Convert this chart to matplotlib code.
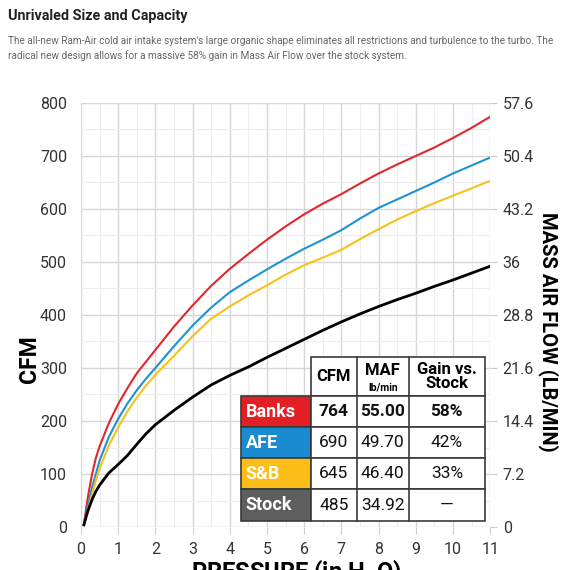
import matplotlib.pyplot as plt
from matplotlib.patches import Rectangle
from matplotlib.ticker import MultipleLocator

# pressure (in H2O) and airflow (CFM)
pressure = [0.08, 0.15, 0.2, 0.3, 0.4, 0.5, 0.75, 1, 1.25, 1.5, 1.75, 2, 2.5, 3, 3.5, 4,
            4.5, 5, 5.5, 6, 6.5, 7, 7.5, 8, 8.5, 9, 9.5, 10, 10.5, 11]
banks = [5, 40, 62, 100, 130, 152, 196, 232, 262, 290, 312, 334, 378, 418, 455, 487,
         515, 542, 567, 590, 610, 628, 648, 667, 684, 700, 716, 734, 753, 774]
afe = [4, 28, 45, 75, 100, 125, 170, 204, 233, 258, 280, 300, 341, 380, 414, 443,
       465, 486, 506, 525, 542, 560, 582, 602, 618, 634, 650, 667, 682, 697]
sb = [4, 22, 36, 62, 88, 110, 154, 188, 218, 244, 267, 287, 323, 360, 393, 416,
      437, 456, 476, 494, 508, 523, 543, 562, 580, 596, 611, 625, 639, 653]
stock = [4, 22, 33, 52, 67, 79, 102, 118, 135, 156, 176, 193, 220, 245, 268, 286,
         302, 320, 337, 354, 371, 387, 402, 416, 429, 441, 454, 466, 479, 492]

# table values
names = ['Banks', 'AFE', 'S&B', 'Stock']
cfm_vals = ['764', '690', '645', '485']
maf_vals = ['55.00', '49.70', '46.40', '34.92']
gain_vals = ['58%', '42%', '33%', '\u2014']

maf_ticks = ['0', '7.2', '14.4', '21.6', '28.8', '36', '43.2', '50.4', '57.6']

colors = ['#e2262d', '#1e93d3', '#f6c21a', 'black']
cell_colors = ['#e31e25', '#1a8bd0', '#fbbd16', '#5e5e5e']

plt.rcParams['font.family'] = ['Roboto', 'DejaVu Sans']

fig = plt.figure(figsize=(5.7, 5.7), dpi=100)
ax = fig.add_axes([0.142, 0.0754, 0.718, 0.744])

for ys, c in zip([banks, afe, sb, stock], colors):
    ax.plot(pressure, ys, color=c, lw=2.0 if c == 'black' else 1.5, zorder=3,
            solid_joinstyle='round')

ax.set_xlim(0, 11)
ax.set_ylim(0, 800)
ax.xaxis.set_major_locator(MultipleLocator(1))
ax.xaxis.set_minor_locator(MultipleLocator(0.5))
ax.yaxis.set_major_locator(MultipleLocator(100))
ax.yaxis.set_minor_locator(MultipleLocator(50))
ax.grid(which='major', color='#d6d6d6', lw=1.0)
ax.grid(which='minor', color='#ededed', lw=0.8)
ax.set_axisbelow(True)
for s in ax.spines.values():
    s.set_visible(False)
ax.tick_params(which='major', length=5, color='#cccccc', labelsize=11.5, labelcolor='#333333', pad=6)
ax.tick_params(which='minor', length=0)
ax.tick_params(axis='y', length=0, pad=10)

ax2 = ax.twinx()
ax2.set_ylim(0, 800)
ax2.set_yticks(range(0, 801, 100))
ax2.set_yticklabels(maf_ticks)
for s in ax2.spines.values():
    s.set_visible(False)
ax2.tick_params(length=5, color='#cccccc', labelsize=11.5, labelcolor='#333333', pad=4)

fig.text(0.052, 0.37, 'CFM', rotation=90, fontsize=16.5, fontweight='bold', ha='center', va='center')
fig.text(0.962, 0.418, 'MASS AIR FLOW (LB/MIN)', rotation=-90, fontsize=14.5, fontweight='bold',
         ha='center', va='center')
fig.text(0.52, 0.023, 'PRESSURE (in H$_\\mathbf{2}$O)', fontsize=17, fontweight='bold', ha='center', va='top')

fig.text(0.014, 0.972, 'Unrivaled Size and Capacity', fontsize=10.4, fontweight='bold', color='#222222', va='center')
fig.text(0.014, 0.928, "The all-new Ram-Air cold air intake system's large organic shape eliminates all restrictions and turbulence to the turbo. The",
         fontsize=7.2, color='#666666', va='center')
fig.text(0.014, 0.902, 'radical new design allows for a massive 58% gain in Mass Air Flow over the stock system.',
         fontsize=7.2, color='#666666', va='center')

# table drawn in axes fraction coordinates
x0 = 0.391
col_w = [0.171, 0.112, 0.127, 0.186]
y_top = 0.401
head_h = 0.092
row_h = 0.0735
edge = '#3a3a3a'
tr = ax.transAxes

xs = [x0]
for w in col_w:
    xs.append(xs[-1] + w)

# header row
ax.add_patch(Rectangle((xs[1], y_top - head_h), xs[4] - xs[1], head_h, transform=tr,
                       facecolor='white', edgecolor=edge, lw=1.2, zorder=5))
for j in (2, 3):
    ax.plot([xs[j], xs[j]], [y_top - head_h, y_top], color=edge, lw=1.2, transform=tr, zorder=6)
hy = y_top - head_h / 2
ax.text((xs[1] + xs[2]) / 2, hy, 'CFM', transform=tr, ha='center', va='center',
        fontsize=12, fontweight='bold', zorder=7)
ax.text((xs[2] + xs[3]) / 2, hy + 0.013, 'MAF', transform=tr, ha='center', va='center',
        fontsize=12, fontweight='bold', zorder=7)
ax.text((xs[2] + xs[3]) / 2, hy - 0.025, 'lb/min', transform=tr, ha='center', va='center',
        fontsize=7.5, fontweight='bold', zorder=7)
ax.text((xs[3] + xs[4]) / 2, hy, 'Gain vs.\nStock', transform=tr, ha='center', va='center',
        fontsize=12, fontweight='bold', linespacing=0.85, zorder=7)

for i, name in enumerate(names):
    yb = y_top - head_h - (i + 1) * row_h
    ax.add_patch(Rectangle((xs[0], yb), col_w[0], row_h, transform=tr,
                           facecolor=cell_colors[i], edgecolor=edge, lw=1.2, zorder=5))
    ax.add_patch(Rectangle((xs[1], yb), xs[4] - xs[1], row_h, transform=tr,
                           facecolor='white', edgecolor=edge, lw=1.2, zorder=5))
    for j in (2, 3):
        ax.plot([xs[j], xs[j]], [yb, yb + row_h], color=edge, lw=1.2, transform=tr, zorder=6)
    cy = yb + row_h / 2
    ax.text(xs[0] + 0.012, cy, name, transform=tr, ha='left', va='center',
            fontsize=13, fontweight='bold', color='white', zorder=7)
    wt = 'bold' if i == 0 else 'normal'
    for j, v in enumerate([cfm_vals[i], maf_vals[i], gain_vals[i]]):
        ax.text((xs[j + 1] + xs[j + 2]) / 2, cy, v, transform=tr, ha='center', va='center',
                fontsize=12.5, fontweight=wt, color='#111111', zorder=7)

fig.savefig('out.png', dpi=100)
